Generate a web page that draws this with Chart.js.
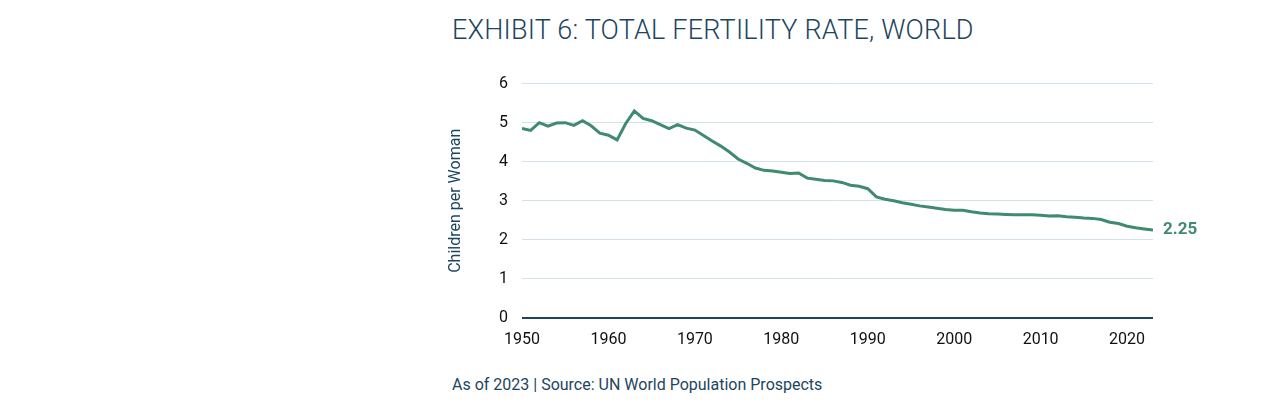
<!DOCTYPE html>
<html><head><meta charset="utf-8">
<script src="https://cdn.jsdelivr.net/npm/chart.js@4"></script>
<style>
body{margin:0;width:1275px;height:410px;background:#fff;position:relative;font-family:'Liberation Sans Narrow',Roboto,sans-serif;color:#1d4560}
#title{position:absolute;left:452px;top:14px;font-size:27px;letter-spacing:0.2px;font-weight:300}
#src{position:absolute;left:452px;top:375px;font-size:16px}
#wrap{position:absolute;left:440px;top:60px;width:790px;height:300px}
</style></head><body>
<div id="title">EXHIBIT 6: TOTAL FERTILITY RATE, WORLD</div>
<div id="wrap"><canvas id="c"></canvas></div>
<div id="src">As of 2023 | Source: UN World Population Prospects</div>
<script>
// Total fertility rate, world, 1950-2023
const years = [];
for (let y = 1950; y <= 2023; y++) years.push(y);
const tfr = [4.85,4.80,5.00,4.91,4.99,5.00,4.93,5.05,4.92,4.73,4.68,4.56,4.98,5.30,5.11,5.05,4.95,4.85,4.95,4.86,
  4.81,4.67,4.53,4.40,4.25,4.07,3.96,3.84,3.78,3.76,3.73,3.70,3.71,3.58,3.55,3.52,3.51,3.47,3.40,3.37,
  3.31,3.10,3.04,3.00,2.95,2.91,2.87,2.84,2.81,2.78,2.76,2.76,2.72,2.69,2.67,2.66,2.65,2.64,2.64,2.64,
  2.63,2.61,2.62,2.59,2.58,2.56,2.55,2.52,2.45,2.42,2.35,2.31,2.28,2.25];
const FONT = "'Liberation Sans Narrow', Roboto, sans-serif";
const NAVY = '#1d4560';
const GREEN = '#3f8a70';

const endLabel = {
  id: 'endLabel',
  afterDatasetsDraw(chart) {
    const pt = chart.getDatasetMeta(0).data[tfr.length - 1];
    const ctx = chart.ctx;
    ctx.save();
    ctx.font = 'bold 17px ' + FONT;
    ctx.fillStyle = GREEN;
    ctx.textBaseline = 'middle';
    ctx.fillText(tfr[tfr.length - 1].toFixed(2), pt.x + 10, pt.y);
    ctx.restore();
  }
};

new Chart(document.getElementById('c'), {
  type: 'line',
  data: {
    datasets: [{
      data: years.map((y, i) => ({x: y, y: tfr[i]})),
      borderColor: GREEN,
      borderWidth: 3,
      pointRadius: 0,
      tension: 0
    }]
  },
  options: {
    responsive: true,
    maintainAspectRatio: false,
    animation: false,
    layout: {padding: {top: 2, right: 77}},
    plugins: {legend: {display: false}, tooltip: {enabled: false}},
    scales: {
      x: {
        type: 'linear', min: 1950, max: 2023,
        afterBuildTicks: s => { s.ticks = [1950,1960,1970,1980,1990,2000,2010,2020].map(v => ({value: v})); },
        afterFit: s => { s.height = 42; },
        grid: {display: false},
        border: {display: false},
        ticks: {color: '#111', font: {family: FONT, size: 16}, padding: 4, callback: v => String(v)}
      },
      y: {
        min: 0, max: 6,
        afterFit: s => { s.width = 82; },
        ticks: {stepSize: 1, color: '#111', font: {family: FONT, size: 16}, padding: 14},
        grid: {
          color: c => c.tick.value === 0 ? NAVY : '#d3e2ea',
          lineWidth: c => c.tick.value === 0 ? 2 : 1,
          drawTicks: false
        },
        border: {display: false},
        title: {display: true, text: 'Children per Woman', color: NAVY, font: {family: FONT, size: 16}, padding: 6}
      }
    }
  },
  plugins: [endLabel]
});
</script>
</body></html>
